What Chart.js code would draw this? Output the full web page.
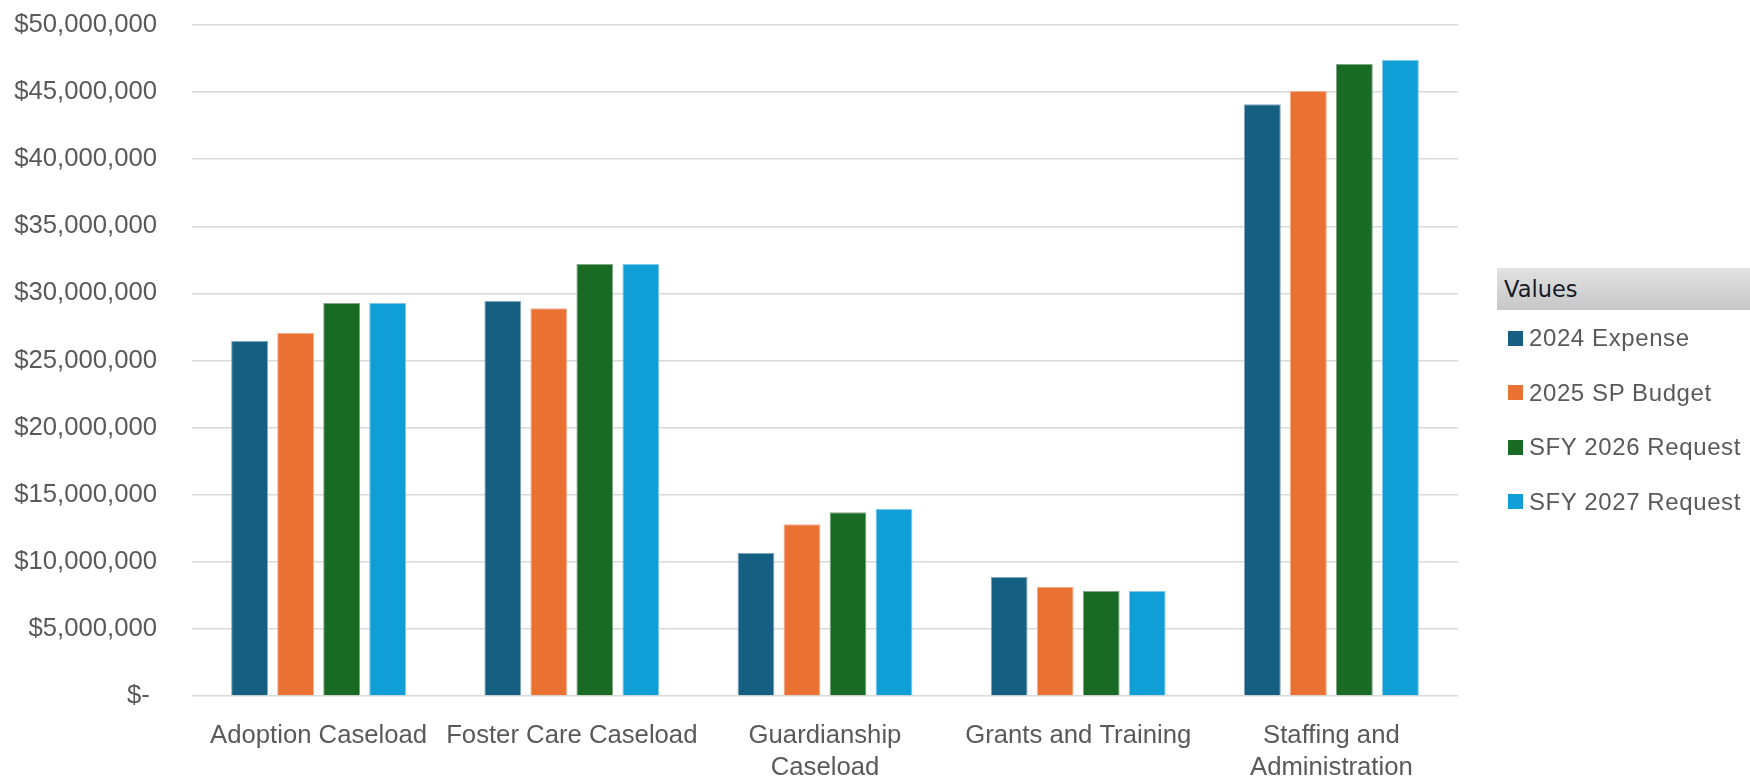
<!DOCTYPE html>
<html>
<head>
<meta charset="utf-8">
<script src="https://cdn.jsdelivr.net/npm/chart.js@4"></script>
<style>
  body { margin: 0; background: #fff; }
  .wrap { position: relative; width: 1750px; height: 782px; }
  .legend-head {
    position: absolute; left: 1497px; top: 268px; width: 253px; height: 42px;
    background: linear-gradient(to bottom, #e2e2e2, #c6c6c6);
    font: 22.5px "DejaVu Sans", sans-serif; color: #151a28;
    line-height: 42px; padding-left: 7px; box-sizing: border-box;
  }
  .legend-item {
    position: absolute; left: 1508px; height: 30px;
    display: flex; align-items: center;
    font: 24px "Liberation Sans", Arial, sans-serif; color: #595959; letter-spacing: 0.6px;
  }
  .legend-item .box { width: 15px; height: 15px; margin-right: 6px; }
</style>
</head>
<body>
<div class="wrap">
  <canvas id="budget"></canvas>
  <div class="legend-head">Values</div>
  <div id="legend"></div>
</div>
<script>
const categories = [
  'Adoption Caseload',
  'Foster Care Caseload',
  ['Guardianship', 'Caseload'],
  'Grants and Training',
  ['Staffing and', 'Administration'],
];
const seriesNames = ['2024 Expense', '2025 SP Budget', 'SFY 2026 Request', 'SFY 2027 Request'];
const expense2024 = [26450000, 29430000, 10660000, 8870000, 44100000];
const budget2025 = [27050000, 28900000, 12800000, 8120000, 45080000];
const request2026 = [29280000, 32200000, 13700000, 7820000, 47100000];
const request2027 = [29280000, 32200000, 13930000, 7820000, 47400000];
const colors = ['#156082', '#e97132', '#196b24', '#0f9ed5'];
const edgeColors = ['#7fa6b9', '#f3ae8a', '#7fa684', '#82c8e8'];

const values = [expense2024, budget2025, request2026, request2027];
const textGray = '#595959';
const axisFont = '"Liberation Sans", Arial, sans-serif';

let ctx = document.getElementById('budget').getContext('2d');
const data = {
  labels: categories,
  datasets: seriesNames.map((name, i) => ({
    label: name,
    data: values[i],
    backgroundColor: colors[i],
    borderColor: edgeColors[i],
    borderWidth: 1,
    categoryPercentage: 0.727,
    barPercentage: 0.8,
  })),
};
const config = {
  type: 'bar',
  data: data,
  options: {
    responsive: true,
    maintainAspectRatio: false,
    animation: false,
    layout: { padding: { top: 25, right: 292, bottom: 0, left: 0 } },
    plugins: {
      legend: { display: false },
      tooltip: { enabled: false },
    },
    scales: {
      x: {
        grid: { display: false, drawTicks: false },
        border: { display: false },
        ticks: {
          color: textGray,
          padding: 23,
          maxRotation: 0,
          autoSkip: false,
          font: { family: axisFont, size: 25.7, lineHeight: 1.28 },
        },
        afterFit: (scale) => { scale.height = 86; },
      },
      y: {
        min: 0,
        max: 50000000,
        grid: { color: '#d9d9d9', lineWidth: 1.5, drawTicks: false },
        border: { display: false },
        ticks: {
          stepSize: 5000000,
          color: textGray,
          padding: 35,
          font: { family: axisFont, size: 25.7 },
          callback: (value) => (value === 0 ? '$- ' : '$' + value.toLocaleString('en-US')),
        },
        afterFit: (scale) => {
          // fixed axis width; tick padding should not push the plot down
          scale.width = 192;
          scale.paddingTop = 0;
          scale.paddingBottom = 0;
        },
      },
    },
  },
};
let chart = new Chart(ctx, config);

// legend rows built from the chart's datasets
let legendDiv = document.getElementById('legend');
chart.data.datasets.forEach((ds, i) => {
  legendDiv.innerHTML += `
    <div class="legend-item" style="top:${323 + i * 54.6}px">
      <span class="box" style="background:${ds.backgroundColor}"></span>${ds.label}
    </div>`;
});
</script>
</body>
</html>
